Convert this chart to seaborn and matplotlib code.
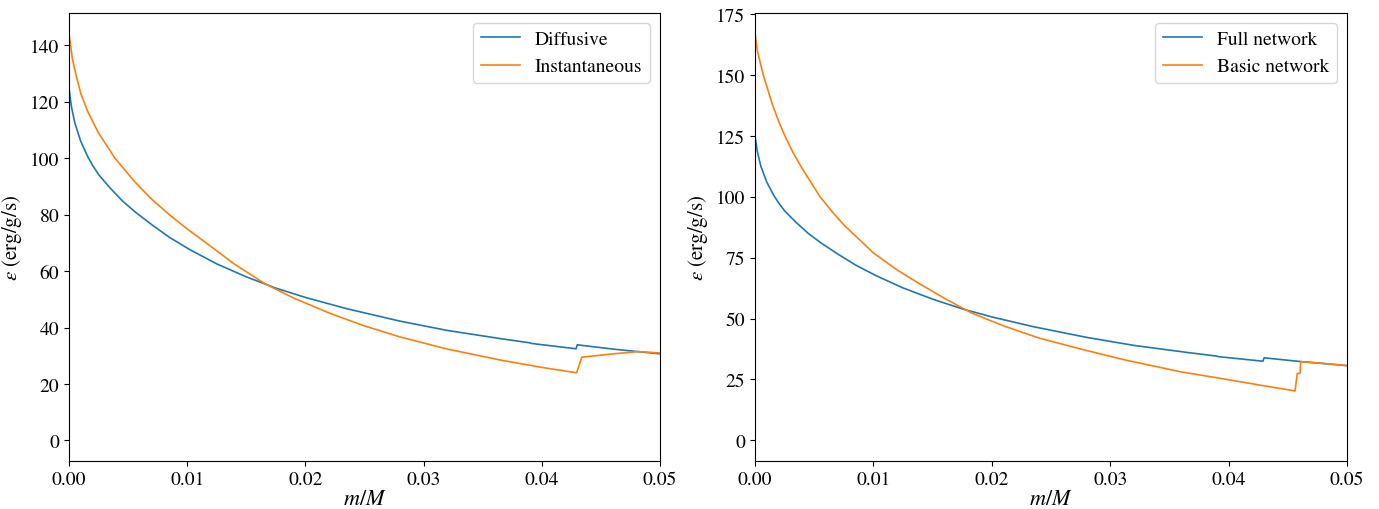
import pandas as pd
import matplotlib
matplotlib.use("Agg")
import matplotlib.pyplot as plt
import seaborn as sns

# valori (m/M, epsilon in erg/g/s)
mass_full = [0, 0.0002, 0.0005, 0.001, 0.0016, 0.002, 0.0025, 0.003, 0.0035, 0.0045,
             0.0056, 0.007, 0.0085, 0.0102, 0.0125, 0.015, 0.0175, 0.02, 0.0235, 0.028,
             0.032, 0.0365, 0.039, 0.0391, 0.0429, 0.0430, 0.046, 0.05]
eps_full = [125, 118.5, 112.5, 106, 100.5, 97.5, 94.3, 91.8, 89.4, 85,
            81, 76.5, 72, 67.7, 62.6, 58, 54, 50.7, 46.7, 42.3,
            39, 36.1, 34.6, 34.4, 32.5, 33.9, 32.4, 30.7]

mass_inst = [0, 0.0003, 0.0006, 0.001, 0.0016, 0.0025, 0.0039, 0.0055, 0.007, 0.0085,
             0.01, 0.012, 0.014, 0.0166, 0.019, 0.022, 0.025, 0.028, 0.032, 0.0365,
             0.04, 0.04295, 0.04338, 0.0458, 0.04816, 0.05]
eps_inst = [144.5, 135, 129.5, 123, 116.5, 109, 100, 92, 85.5, 80,
            75, 68.8, 62.5, 55.5, 50.5, 45.2, 40.6, 36.7, 32.4, 28.5,
            25.9, 24.0, 29.5, 30.6, 31.5, 31.0]

mass_basic = [0, 0.0002, 0.0007, 0.0015, 0.002, 0.00253, 0.0032, 0.004, 0.0055, 0.0065,
              0.0075, 0.01, 0.012, 0.014, 0.0162, 0.0183, 0.021, 0.024, 0.02745, 0.031,
              0.0359, 0.04, 0.043, 0.04561, 0.0458, 0.04603, 0.04609, 0.048, 0.05]
eps_basic = [167.5, 160, 150, 137.5, 131, 125, 118.3, 111.5, 100, 94,
             88.5, 77, 70, 64, 57.8, 52.3, 47, 42, 37.6, 33.3,
             28.2, 24.9, 22.4, 20.3, 27.5, 27.5, 32.3, 31.6, 30.7]

plt.rcParams["font.family"] = "STIXGeneral"
plt.rcParams["mathtext.fontset"] = "stix"
plt.rcParams["font.size"] = 14

fig = plt.figure(figsize=(13.79, 5.10), dpi=100)
ax1 = fig.add_axes([0.050, 0.094, 0.4286, 0.8785])
ax2 = fig.add_axes([0.5475, 0.094, 0.4293, 0.8785])

# pannello sinistro: diffusivo vs istantaneo
sns.lineplot(x=mass_full, y=eps_full, ax=ax1, label="Diffusive", color="#1f77b4", linewidth=1.2)
sns.lineplot(x=mass_inst, y=eps_inst, ax=ax1, label="Instantaneous", color="#ff7f0e", linewidth=1.2)
ax1.set_xlim(0, 0.05)
ax1.set_ylim(-7.3, 151.5)
ax1.set_yticks([0, 20, 40, 60, 80, 100, 120, 140])

# pannello destro: rete completa vs rete base
sns.lineplot(x=mass_full, y=eps_full, ax=ax2, label="Full network", color="#1f77b4", linewidth=1.2)
sns.lineplot(x=mass_basic, y=eps_basic, ax=ax2, label="Basic network", color="#ff7f0e", linewidth=1.2)
ax2.set_xlim(0, 0.05)
ax2.set_ylim(-8.5, 175.5)
ax2.set_yticks([0, 25, 50, 75, 100, 125, 150, 175])

for ax in (ax1, ax2):
    ax.set_xticks([0, 0.01, 0.02, 0.03, 0.04, 0.05])
    ax.set_xticklabels(["0.00", "0.01", "0.02", "0.03", "0.04", "0.05"])
    ax.set_xlabel(r"$m/M$", fontsize=16, labelpad=1)
    ax.set_ylabel(r"$\varepsilon$ (erg/g/s)", fontsize=15)
    ax.legend(loc="upper right", fontsize=14)

plt.savefig("out.png", dpi=100)
